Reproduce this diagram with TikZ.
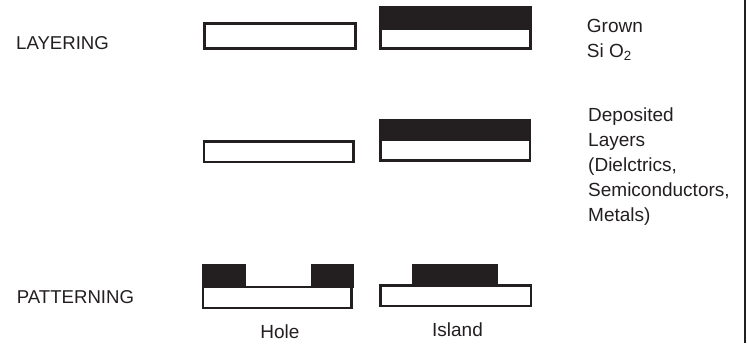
\documentclass[tikz,border=0pt]{standalone}
\usepackage{fontspec}
\setmainfont{Liberation Sans}
\definecolor{ink}{RGB}{35,31,32}
\begin{document}
\begin{tikzpicture}[x=1pt,y=-1pt,
  lbl/.style={font=\fontsize{19}{25}\selectfont, inner sep=0pt, align=left, text=ink},
  rowlbl/.style={font=\fontsize{18.6}{25}\selectfont, inner sep=0pt, text=ink},
  sub/.style={draw=ink, line width=2.7pt, fill=white},
  film/.style={fill=ink}]
\useasboundingbox (0,0) rectangle (747,343);
% edge line
\coordinate (et) at (745.3,0);
\coordinate (eb) at (745.3,343);
\draw[ink, line width=2pt] (et) -- (eb);
% row labels
\node[rowlbl, anchor=west] (lay) at (16,43.5) {LAYERING};
\node[rowlbl, anchor=west] (pat) at (16.7,297) {PATTERNING};
% row 1: grown oxide
\draw[sub] (204.3,23.5) rectangle (355.7,48.5);
\draw[sub] (380.3,28.5) rectangle (530.7,48.7);
\fill[film] (379,6) rectangle (532.3,30);
\node[lbl, anchor=base west] (grown) at (586.7,57.1) {Grown\\Si O\textsubscript{2}};
% row 2: deposited layers
\draw[sub] (204,141.3) rectangle (353.7,162);
\draw[sub] (380.3,139) rectangle (529.9,160.7);
\fill[film] (378.7,119) rectangle (531.3,140.5);
\node[lbl, anchor=base west] (dep) at (588,221.7) {Deposited\\Layers\\(Dielctrics,\\Semiconductors,\\Metals)};
% row 3: patterning
\draw[sub] (203,287) rectangle (351.7,308);
\fill[film] (201.7,264.3) rectangle (245.7,287.5);
\fill[film] (310.7,264.3) rectangle (354.3,287.5);
\draw[sub] (380.3,285.6) rectangle (531,306);
\fill[film] (411.7,264.3) rectangle (497.7,286.5);
\node[lbl, anchor=base] (hole) at (280,338.3) {Hole};
\node[lbl, anchor=base] (island) at (457.5,336) {Island};
\end{tikzpicture}
\end{document}
